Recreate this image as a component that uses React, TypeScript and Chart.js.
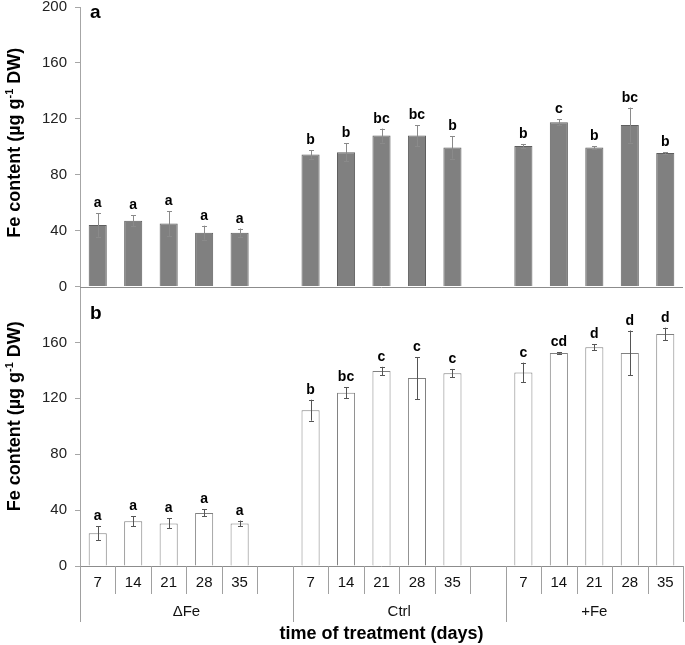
import React, { useEffect, useRef } from 'react';
import { Chart, registerables } from 'chart.js';

Chart.register(...registerables);

const FONT = "'Liberation Sans', Arial, Helvetica, sans-serif";

const groupLabels = ['ΔFe', 'Ctrl', '+Fe'];
const dayLabels = ['7', '14', '21', '28', '35'];

// Panel a (grey bars)
const meansA = [44, 47, 45, 38.5, 38.5, 94.5, 96, 108, 108, 99.5, 100.5, 117.5, 99.5, 115.5, 95.5];
const errA = [8.5, 4, 9, 5, 3, 3, 6.5, 5, 7.5, 8, 1.5, 2, 1, 12.5, 0.5];
const lettersA = ['a', 'a', 'a', 'a', 'a', 'b', 'b', 'bc', 'bc', 'b', 'b', 'c', 'b', 'bc', 'b'];

// Panel b (white bars)
const meansB = [23.5, 32, 30.5, 38, 30.5, 111.5, 124, 139.5, 134.5, 138, 138.5, 152.5, 156.5, 152.5, 166];
const errB = [5, 3.5, 3.5, 2.5, 2, 7.5, 4, 3, 15, 3, 7, 0.5, 2, 16, 4.5];
const lettersB = ['a', 'a', 'a', 'a', 'a', 'b', 'bc', 'c', 'c', 'c', 'c', 'cd', 'd', 'd', 'd'];

const yMax = 200;
const yStep = 40;

const yTitleMain1 = 'Fe content (µg g';
const yTitleSup = '-1';
const yTitleMain2 = ' DW)';
const xTitle = 'time of treatment (days)';

function toSlots<T>(vals: T[]): (T | null)[] {
  const out: (T | null)[] = [];
  vals.forEach((v, i) => {
    out.push(v);
    if (i === 4 || i === 9) out.push(null);
  });
  return out;
}

const slotLabels = toSlots([...dayLabels, ...dayLabels, ...dayLabels]).map((v) => v ?? '');

function drawYTitle(ctx: CanvasRenderingContext2D, cx: number, cy: number) {
  ctx.save();
  const big = `bold 18px ${FONT}`;
  const small = `bold 11px ${FONT}`;
  ctx.font = big;
  const w1 = ctx.measureText(yTitleMain1).width;
  const w3 = ctx.measureText(yTitleMain2).width;
  ctx.font = small;
  const w2 = ctx.measureText(yTitleSup).width;
  const total = w1 + w2 + w3;
  ctx.translate(cx, cy);
  ctx.rotate(-Math.PI / 2);
  ctx.fillStyle = '#000';
  ctx.textBaseline = 'alphabetic';
  ctx.textAlign = 'left';
  let x = -total / 2;
  ctx.font = big;
  ctx.fillText(yTitleMain1, x, 0);
  x += w1;
  ctx.font = small;
  ctx.fillText(yTitleSup, x, -7);
  x += w2;
  ctx.font = big;
  ctx.fillText(yTitleMain2, x, 0);
  ctx.restore();
}

const annotPlugin = {
  id: 'annot',
  afterDraw(chart: any) {
    const ctx: CanvasRenderingContext2D = chart.ctx;
    const xs = chart.scales.x;
    const yA = chart.scales.yA;
    const yB = chart.scales.yB;
    const area = chart.chartArea;
    const panels = [
      { scale: yA, means: toSlots(meansA), errs: toSlots(errA), letters: toSlots(lettersA), meta: chart.getDatasetMeta(1), ecol: '#8a8a8a' },
      { scale: yB, means: toSlots(meansB), errs: toSlots(errB), letters: toSlots(lettersB), meta: chart.getDatasetMeta(0), ecol: '#555555' },
    ];
    ctx.save();
    // x axis lines
    ctx.strokeStyle = '#8c8c8c';
    ctx.lineWidth = 1;
    [yA.bottom, yB.bottom].forEach((yy: number) => {
      ctx.beginPath();
      ctx.moveTo(area.left, Math.round(yy) + 0.5);
      ctx.lineTo(area.right, Math.round(yy) + 0.5);
      ctx.stroke();
    });
    // error bars + letters
    panels.forEach((p) => {
      p.means.forEach((m, i) => {
        if (m === null) return;
        const e = p.errs[i] as number;
        const el = p.meta.data[i];
        const cx = Math.round(el.x) + 0.5;
        const yt = p.scale.getPixelForValue(m + e);
        const yb = p.scale.getPixelForValue(m - e);
        ctx.strokeStyle = p.ecol;
        ctx.beginPath();
        ctx.moveTo(cx, yt);
        ctx.lineTo(cx, yb);
        ctx.moveTo(cx - 2.5, Math.round(yt) + 0.5);
        ctx.lineTo(cx + 2.5, Math.round(yt) + 0.5);
        ctx.moveTo(cx - 2.5, Math.round(yb) + 0.5);
        ctx.lineTo(cx + 2.5, Math.round(yb) + 0.5);
        ctx.stroke();
        ctx.fillStyle = '#000';
        ctx.font = `bold 14px ${FONT}`;
        ctx.textAlign = 'center';
        ctx.textBaseline = 'alphabetic';
        ctx.fillText(p.letters[i] as string, el.x, yt - 6);
      });
    });
    // panel labels
    ctx.fillStyle = '#000';
    ctx.font = `bold 19px ${FONT}`;
    ctx.textAlign = 'left';
    ctx.textBaseline = 'alphabetic';
    ctx.fillText('a', 90, yA.top + 11);
    ctx.fillText('b', 90, yB.top + 32);
    // y titles
    drawYTitle(ctx, 19.5, (yA.top + yA.bottom) / 2 - 4);
    drawYTitle(ctx, 19.5, (yB.top + yB.bottom) / 2 - 10);
    // category axis
    const n = slotLabels.length;
    const slotW = (area.right - area.left) / n;
    const base = yB.bottom;
    ctx.strokeStyle = '#a0a0a0';
    for (let i = 0; i <= n; i++) {
      const xx = Math.round(area.left + i * slotW) + 0.5;
      const long = i === 0 || i === 6 || i === 12 || i === n;
      ctx.beginPath();
      ctx.moveTo(xx, base);
      ctx.lineTo(xx, base + (long ? 56 : 28));
      ctx.stroke();
    }
    ctx.fillStyle = '#111';
    ctx.font = `15px ${FONT}`;
    ctx.textAlign = 'center';
    ctx.textBaseline = 'middle';
    slotLabels.forEach((lab, i) => {
      if (!lab) return;
      ctx.fillText(lab, xs.getPixelForValue(i), base + 17);
    });
    const bounds = [0, 6, 12, n];
    groupLabels.forEach((g, gi) => {
      const x0 = area.left + bounds[gi] * slotW;
      const x1 = area.left + bounds[gi + 1] * slotW;
      ctx.fillText(g, (x0 + x1) / 2, base + 46);
    });
    ctx.fillStyle = '#000';
    ctx.font = `bold 18px ${FONT}`;
    ctx.fillText(xTitle, (area.left + area.right) / 2, base + 68);
    ctx.restore();
  },
};

function yScale(hideTop: boolean) {
  return {
    type: 'linear',
    position: 'left',
    stack: 'panels',
    stackWeight: 1,
    min: 0,
    max: yMax,
    ticks: {
      stepSize: yStep,
      padding: 8,
      color: '#222',
      font: { family: FONT, size: 15, lineHeight: 1 },
      callback: (v: number) => (hideTop && v === yMax ? '' : String(v)),
    },
    grid: { drawOnChartArea: false, drawTicks: true, tickLength: 5, color: '#a6a6a6' },
    border: { display: true, color: '#a6a6a6', width: 1 },
    afterFit: (s: any) => {
      s.width = 80;
      s.paddingTop = 0;
      s.paddingBottom = 0;
    },
  };
}

export default function App() {
  const ref = useRef<HTMLCanvasElement | null>(null);
  useEffect(() => {
    if (!ref.current) return;
    const chart = new Chart(ref.current, {
      type: 'bar',
      data: {
        labels: slotLabels,
        datasets: [
          {
            label: 'b',
            data: toSlots(meansB),
            yAxisID: 'yB',
            backgroundColor: '#ffffff',
            borderColor: '#808080',
            borderWidth: 1,
            grouped: false,
            barPercentage: 0.51,
            categoryPercentage: 1,
          } as any,
          {
            label: 'a',
            data: toSlots(meansA),
            yAxisID: 'yA',
            backgroundColor: '#808080',
            borderColor: '#5e5e5e',
            borderWidth: 1,
            grouped: false,
            barPercentage: 0.51,
            categoryPercentage: 1,
          } as any,
        ],
      },
      options: {
        animation: false,
        responsive: false,
        layout: { padding: { top: 7, right: 2, left: 0, bottom: 0 } },
        plugins: { legend: { display: false }, tooltip: { enabled: false } },
        scales: {
          x: {
            type: 'category',
            offset: true,
            ticks: { display: false },
            grid: { display: false },
            border: { display: false },
            afterFit: (s: any) => {
              s.height = 79;
              s.paddingLeft = 0;
              s.paddingRight = 0;
            },
          },
          yB: yScale(true),
          yA: yScale(false),
        } as any,
      },
      plugins: [annotPlugin],
    });
    return () => chart.destroy();
  }, []);
  return (
    <div style={{ position: 'absolute', left: 0, top: 0, width: 685, height: 645, background: '#fff' }}>
      <canvas ref={ref} width={685} height={645} style={{ display: 'block' }} />
    </div>
  );
}
